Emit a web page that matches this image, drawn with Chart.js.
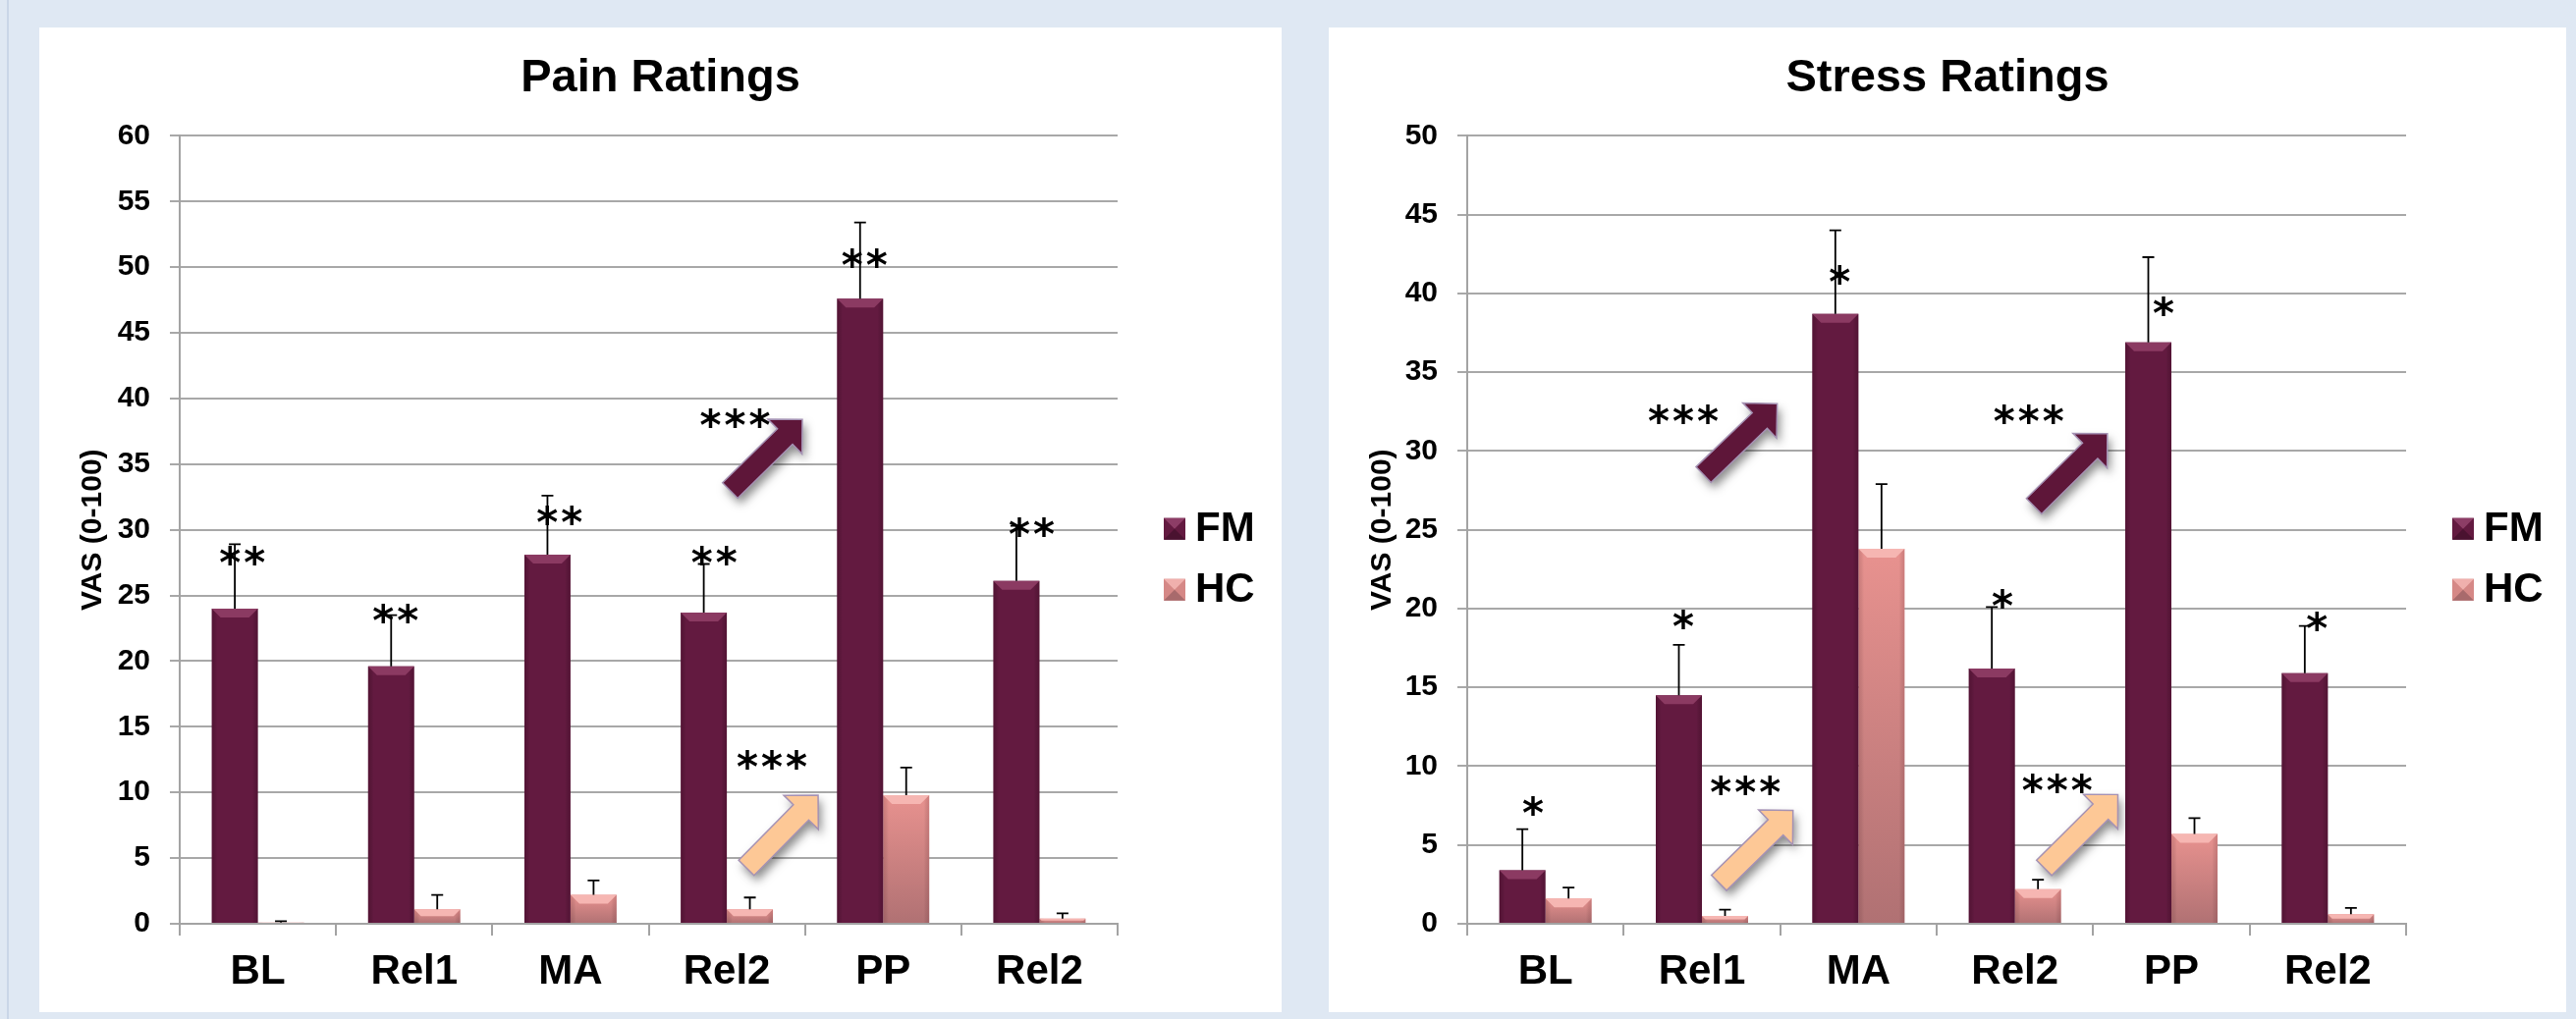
<!DOCTYPE html>
<html>
<head>
<meta charset="utf-8">
<script src="https://cdn.jsdelivr.net/npm/chart.js@4.4.1/dist/chart.umd.min.js"></script>
<style>
  html, body { margin: 0; padding: 0; width: 2623px; height: 1038px; overflow: hidden; background: #dfe8f3; }
  .edge { position: absolute; left: 7px; top: 0; width: 2px; height: 1038px; background: #c9d6e8; }
  .panel { position: absolute; background: #ffffff; }
  #panelPain { left: 40px; top: 28px; width: 1265px; height: 1003px; }
  #panelStress { left: 1353px; top: 28px; width: 1260px; height: 1003px; }
</style>
</head>
<body>
<div class="edge"></div>
<div class="panel" id="panelPain"><canvas id="painChart"></canvas></div>
<div class="panel" id="panelStress"><canvas id="stressChart"></canvas></div>
<script>
// ---- data -------------------------------------------------------------
const categories = ['BL', 'Rel1', 'MA', 'Rel2', 'PP', 'Rel2'];
const seriesNames = ['FM', 'HC'];

const painFM      = [24.0, 19.6, 28.1, 23.7, 47.6, 26.1];
const painFMErr   = [4.9, 3.9, 4.5, 3.7, 5.8, 4.2];
const painHC      = [0.1, 1.1, 2.2, 1.1, 9.8, 0.4];
const painHCErr   = [0.1, 1.1, 1.1, 0.9, 2.1, 0.4];
const painSig     = ['**', '**', '**', '**', '**', '**'];
const painYMax    = 60;

const stressFM    = [3.4, 14.5, 38.7, 16.2, 36.9, 15.9];
const stressFMErr = [2.6, 3.2, 5.3, 3.9, 5.4, 3.0];
const stressHC    = [1.6, 0.5, 23.8, 2.2, 5.7, 0.6];
const stressHCErr = [0.7, 0.4, 4.1, 0.6, 1.0, 0.4];
const stressSig   = ['*', '*', '*', '*', '*', '*'];
const stressYMax  = 50;

const yStep = 5;

// ---- annotation placement (category offset, value level) --------------
const painSigAt = [[-0.10, 28.0], [-0.12, 23.6], [-0.07, 31.1], [-0.08, 28.0], [-0.12, 50.7], [-0.05, 30.2]];
const stressSigAt = [[-0.08, 7.5], [-0.12, 19.3], [-0.12, 41.2], [-0.08, 20.6], [-0.05, 39.2], [-0.07, 19.2]];

const MAROON = '#631a40';
const PEACH = '#fdc896';

const painTrends = [
  { from: [3.021, 33.0], to: [3.483, 38.4], fill: '#5e1639', mark: '***', markAt: [3.053, 38.5] },
  { from: [3.125, 4.26], to: [3.584, 9.8], fill: PEACH, mark: '***', markAt: [3.288, 12.5] }
];
const stressTrends = [
  { from: [1.010, 28.5], to: [1.481, 33.0], fill: '#5e1639', mark: '***', markAt: [0.881, 32.35] },
  { from: [3.122, 26.5], to: [3.591, 31.1], fill: '#5e1639', mark: '***', markAt: [3.089, 32.35] },
  { from: [1.109, 2.6], to: [1.582, 7.2], fill: PEACH, mark: '***', markAt: [1.277, 8.8] },
  { from: [3.187, 3.55], to: [3.658, 8.2], fill: PEACH, mark: '***', markAt: [3.271, 8.9] }
];

// ---- drawing helpers --------------------------------------------------
const FONT = '"Liberation Sans", Arial, Helvetica, sans-serif';
const STAR_FONT = '"DejaVu Sans", "Liberation Sans", sans-serif';

function hcFill(c) {
  const ch = c.chart;
  if (!ch.chartArea || c.type !== 'data' || !ch.scales.y) return '#dc8b88';
  const ys = ch.scales.y;
  const top = ys.getPixelForValue(c.raw);
  const bot = ys.getPixelForValue(0);
  if (!(bot - top > 1)) return '#e8948f';
  const g = ch.ctx.createLinearGradient(0, top, 0, bot);
  g.addColorStop(0, '#e8928f');
  g.addColorStop(1, '#b07173');
  return g;
}

function drawStars(ctx, text, cx, cy) {
  ctx.save();
  ctx.font = 'bold 42px ' + STAR_FONT;
  ctx.fillStyle = '#000';
  ctx.textAlign = 'center';
  ctx.textBaseline = 'alphabetic';
  const m = ctx.measureText('*');
  const off = (m.actualBoundingBoxAscent - m.actualBoundingBoxDescent) / 2;
  const pitch = 25;
  const n = text.length;
  for (let k = 0; k < n; k++) ctx.fillText('*', cx + (k - (n - 1) / 2) * pitch, cy + off);
  ctx.restore();
}

function drawArrow(ctx, tx, ty, px, py, fill) {
  const dx = px - tx, dy = py - ty, len = Math.hypot(dx, dy);
  const ux = dx / len, uy = dy / len, nx = -uy, ny = ux;
  const L = 35, hw = 11, c = Math.SQRT1_2;
  const bx = px - L * c * ux, by = py - L * c * uy;
  const hb = L * c;
  const pts = [
    [tx + nx * hw, ty + ny * hw], [bx + nx * hw, by + ny * hw], [bx + nx * hb, by + ny * hb],
    [px, py],
    [bx - nx * hb, by - ny * hb], [bx - nx * hw, by - ny * hw], [tx - nx * hw, ty - ny * hw]
  ];
  ctx.save();
  ctx.beginPath();
  pts.forEach((p, i) => (i ? ctx.lineTo(p[0], p[1]) : ctx.moveTo(p[0], p[1])));
  ctx.closePath();
  ctx.shadowColor = 'rgba(0,0,0,0.45)';
  ctx.shadowBlur = 10;
  ctx.shadowOffsetX = 3;
  ctx.shadowOffsetY = 6;
  ctx.fillStyle = fill;
  ctx.fill();
  ctx.shadowColor = 'transparent';
  ctx.lineWidth = 1.5;
  ctx.strokeStyle = '#a592b4';
  ctx.stroke();
  ctx.restore();
}

function bevelSquare(ctx, x, y, s, base, light, dark) {
  ctx.save();
  ctx.fillStyle = base;
  ctx.fillRect(x, y, s, s);
  const cx = x + s / 2, cy = y + s / 2;
  ctx.fillStyle = light;
  ctx.beginPath(); ctx.moveTo(x, y); ctx.lineTo(x + s, y); ctx.lineTo(cx, cy); ctx.closePath(); ctx.fill();
  ctx.fillStyle = dark;
  ctx.beginPath(); ctx.moveTo(x, y + s); ctx.lineTo(x + s, y + s); ctx.lineTo(cx, cy); ctx.closePath(); ctx.fill();
  ctx.restore();
}

const barLook = [
  { bevel: '#8b3a62', edge: 'rgba(40,0,20,0.25)', legend: ['#631a40', '#8d3d66', '#4a1230'] },
  { bevel: '#f6b6b2', edge: 'rgba(90,30,40,0.18)', legend: ['#d58886', '#f0b0ad', '#a86a6c'] }
];

const extras = {
  id: 'extras',
  afterDatasetsDraw(chart, args, opts) {
    const ctx = chart.ctx;
    const xs = chart.scales.x, ys = chart.scales.y;

    chart.data.datasets.forEach((ds, di) => {
      const meta = chart.getDatasetMeta(di);
      meta.data.forEach((bar, i) => {
        const p = bar.getProps(['x', 'y', 'base', 'width'], true);
        const left = p.x - p.width / 2, right = p.x + p.width / 2;
        const h = Math.min(9, (p.base - p.y) / 2);
        // side shading
        const g = ctx.createLinearGradient(left, 0, right, 0);
        g.addColorStop(0, barLook[di].edge);
        g.addColorStop(0.12, 'rgba(0,0,0,0)');
        g.addColorStop(0.88, 'rgba(0,0,0,0)');
        g.addColorStop(1, barLook[di].edge);
        ctx.fillStyle = g;
        ctx.fillRect(left, p.y, p.width, p.base - p.y);
        // top bevel
        if (h > 0.5) {
          ctx.fillStyle = barLook[di].bevel;
          ctx.beginPath();
          ctx.moveTo(left, p.y); ctx.lineTo(right, p.y);
          ctx.lineTo(right - h, p.y + h); ctx.lineTo(left + h, p.y + h);
          ctx.closePath(); ctx.fill();
        }
      });
    });

    // error bars (upper side only)
    ctx.save();
    ctx.strokeStyle = '#000';
    ctx.lineWidth = 1.8;
    chart.data.datasets.forEach((ds, di) => {
      const meta = chart.getDatasetMeta(di);
      meta.data.forEach((bar, i) => {
        const p = bar.getProps(['x', 'y'], true);
        const yt = ys.getPixelForValue(ds.data[i] + ds.errors[i]);
        ctx.beginPath();
        ctx.moveTo(p.x, p.y); ctx.lineTo(p.x, yt);
        ctx.moveTo(p.x - 6, yt); ctx.lineTo(p.x + 6, yt);
        ctx.stroke();
      });
    });
    ctx.restore();

    // significance marks above the FM bars
    opts.sig.forEach((s, i) => {
      const at = opts.sigAt[i];
      drawStars(ctx, s, xs.getPixelForValue(i + at[0]), ys.getPixelForValue(at[1]));
    });

    // change arrows with their marks
    opts.trends.forEach(t => {
      drawArrow(ctx,
        xs.getPixelForValue(t.from[0]), ys.getPixelForValue(t.from[1]),
        xs.getPixelForValue(t.to[0]), ys.getPixelForValue(t.to[1]), t.fill);
      drawStars(ctx, t.mark, xs.getPixelForValue(t.markAt[0]), ys.getPixelForValue(t.markAt[1]));
    });
  },
  afterDraw(chart) {
    // legend to the right of the plot
    const ctx = chart.ctx;
    const area = chart.chartArea;
    const mid = (area.top + area.bottom) / 2 + 30;
    const gap = 62, s = 22;
    chart.data.datasets.forEach((ds, di) => {
      const cy = mid + (di - (chart.data.datasets.length - 1) / 2) * gap;
      const x = area.right + 47;
      const L = barLook[di].legend;
      bevelSquare(ctx, x, cy - s / 2, s, L[0], L[1], L[2]);
      ctx.save();
      ctx.font = 'bold 42px ' + FONT;
      ctx.fillStyle = '#000';
      ctx.textAlign = 'left';
      ctx.textBaseline = 'middle';
      ctx.fillText(ds.label, x + s + 10, cy + 1);
      ctx.restore();
    });
  }
};

function makeChart(id, title, fm, fmErr, hc, hcErr, yMax, sig, sigAt, trends, axisWidth, legendWidth) {
  return new Chart(document.getElementById(id), {
    type: 'bar',
    data: {
      labels: categories,
      datasets: [
        { label: seriesNames[0], data: fm, errors: fmErr, backgroundColor: MAROON,
          categoryPercentage: 0.59, barPercentage: 1.0 },
        { label: seriesNames[1], data: hc, errors: hcErr, backgroundColor: hcFill,
          categoryPercentage: 0.59, barPercentage: 1.0 }
      ]
    },
    plugins: [extras],
    options: {
      responsive: true,
      maintainAspectRatio: false,
      animation: false,
      layout: { padding: 0 },
      plugins: {
        legend: { display: false },
        tooltip: { enabled: false },
        title: {
          display: true, text: title, color: '#000',
          font: { family: FONT, size: 47, weight: 'bold', lineHeight: 1.2 },
          padding: { top: 24, bottom: 30 }
        },
        extras: { sig: sig, sigAt: sigAt, trends: trends }
      },
      scales: {
        x: {
          offset: true,
          grid: { display: true, offset: true, drawOnChartArea: false, drawTicks: true,
                  tickLength: 12, color: '#a3a3a3', lineWidth: 2 },
          border: { display: true, color: '#a3a3a3', width: 2 },
          ticks: { color: '#000', font: { family: FONT, size: 42, weight: 'bold' },
                   padding: 12, maxRotation: 0, autoSkip: false },
          afterFit(scale) { scale.height = 90; }
        },
        y: {
          min: 0, max: yMax,
          grid: { color: '#a8a8a8', lineWidth: 2, tickLength: 10, drawTicks: true },
          border: { display: true, color: '#a3a3a3', width: 2 },
          ticks: { stepSize: yStep, color: '#000', padding: 20,
                   font: { family: FONT, size: 30, weight: 'bold' } },
          title: { display: true, text: 'VAS (0-100)', color: '#000',
                   font: { family: FONT, size: 30, weight: 'bold', lineHeight: 1.2 },
                   padding: { top: 37, bottom: 0 } },
          afterFit(scale) { scale.width = axisWidth; }
        },
        // empty right-hand band that holds the legend
        legendBand: {
          type: 'linear', position: 'right', display: true,
          grid: { display: false, drawTicks: false },
          border: { display: false },
          ticks: { display: false },
          afterFit(scale) { scale.width = legendWidth; }
        }
      }
    }
  });
}

makeChart('painChart', 'Pain Ratings', painFM, painFMErr, painHC, painHCErr, painYMax,
          painSig, painSigAt, painTrends, 143, 167);
makeChart('stressChart', 'Stress Ratings', stressFM, stressFMErr, stressHC, stressHCErr, stressYMax,
          stressSig, stressSigAt, stressTrends, 141, 163);
</script>
</body>
</html>
